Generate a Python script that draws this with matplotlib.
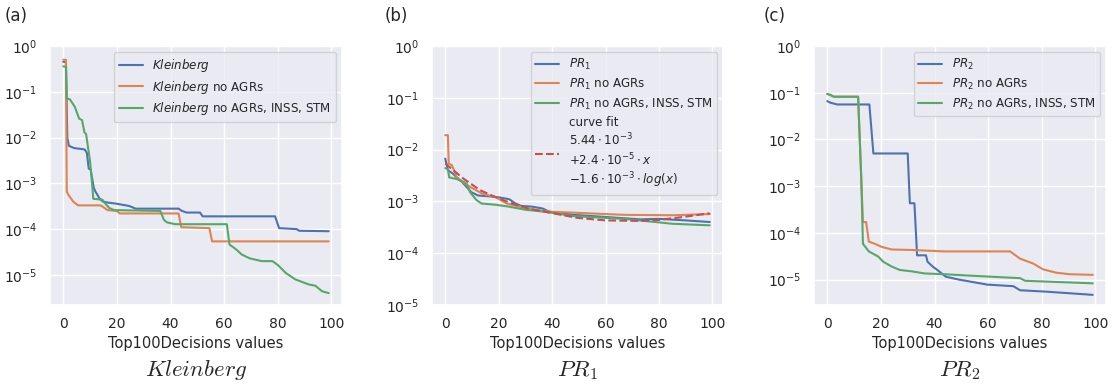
import matplotlib
matplotlib.use('Agg')
import matplotlib.pyplot as plt
import seaborn as sns

sns.set_theme(style='darkgrid')
plt.rcParams['font.family'] = ['DejaVu Sans']

# ---- (a) Kleinberg ----
a_blue_x = [0, 1, 1.5, 2.1, 4, 8, 8.8, 9.5, 10.2, 11.4, 12, 13.6, 14.8, 16.6, 19.7, 24.6, 27, 43, 44.2, 46, 51, 52, 79, 80.5, 87, 88, 99]
a_blue_y = [0.45, 0.45, 1.0e-2, 6.6e-3, 5.9e-3, 5.5e-3, 4.6e-3, 2.1e-3, 2.0e-3, 7.9e-4, 6.6e-4, 4.6e-4, 4.0e-4, 3.8e-4, 3.6e-4, 3.2e-4, 2.8e-4, 2.8e-4, 2.5e-4, 2.3e-4, 2.3e-4, 1.9e-4, 1.9e-4, 1.05e-4, 1.0e-4, 9.2e-5, 9.0e-5]

a_orange_x = [0, 1, 1.3, 2, 3.7, 5.5, 14, 16.5, 20, 21, 43, 44, 54.5, 55.5, 99]
a_orange_y = [0.5, 0.5, 6.6e-4, 5.5e-4, 4.0e-4, 3.3e-4, 3.3e-4, 2.6e-4, 2.5e-4, 2.2e-4, 2.2e-4, 1.1e-4, 1.05e-4, 5.4e-5, 5.4e-5]

a_green_x = [0, 1, 1.3, 2.5, 4.3, 5.9, 7, 7.9, 8.5, 9.1, 10, 10.4, 11.2, 14.6, 15.2, 17.1, 19, 36.2, 37.5, 38.7, 41.8, 61, 62, 64.5, 66.5, 69.5, 74, 78, 80, 83, 86.5, 91.5, 94, 96.5, 99]
a_green_y = [0.36, 0.35, 0.072, 0.068, 0.047, 0.026, 0.024, 0.013, 0.012, 6.9e-3, 3.0e-3, 1.66e-3, 4.6e-4, 4.4e-4, 3.9e-4, 2.9e-4, 2.6e-4, 2.5e-4, 1.6e-4, 1.4e-4, 1.28e-4, 1.28e-4, 4.6e-5, 3.6e-5, 2.8e-5, 2.3e-5, 2.0e-5, 2.0e-5, 1.65e-5, 1.1e-5, 8.0e-6, 6.2e-6, 5.8e-6, 4.4e-6, 4.0e-6]

# ---- (b) PR_1 ----
b_blue_x = [0, 1, 3, 4.3, 6.2, 8, 9.8, 12.3, 16.6, 20, 24, 26, 28.3, 32.6, 36.4, 39, 48, 60, 73, 80, 90, 99]
b_blue_y = [6.7e-3, 4.0e-3, 3.4e-3, 2.9e-3, 2.4e-3, 1.9e-3, 1.5e-3, 1.3e-3, 1.25e-3, 1.2e-3, 1.1e-3, 9.3e-4, 8.2e-4, 7.9e-4, 7.3e-4, 6.3e-4, 5.5e-4, 5.0e-4, 4.5e-4, 4.6e-4, 4.3e-4, 4.0e-4]

b_orange_x = [0, 1, 1.3, 2.5, 3, 4.3, 6.2, 9.3, 14, 19, 23, 28, 34, 40, 50, 67, 85, 99]
b_orange_y = [1.9e-2, 1.9e-2, 5.4e-3, 5.0e-3, 4.3e-3, 2.96e-3, 2.4e-3, 1.9e-3, 1.4e-3, 1.2e-3, 9.1e-4, 7.9e-4, 6.8e-4, 6.3e-4, 6.0e-4, 5.5e-4, 5.4e-4, 5.7e-4]

b_green_x = [0, 1, 1.5, 4.3, 6.8, 8, 9.3, 11.7, 13.6, 19, 24, 30, 37.5, 48, 67, 85, 99]
b_green_y = [4.4e-3, 4.2e-3, 2.9e-3, 2.7e-3, 2.4e-3, 2.2e-3, 1.5e-3, 1.06e-3, 9.1e-4, 8.6e-4, 7.9e-4, 6.9e-4, 6.3e-4, 5.2e-4, 4.6e-4, 3.7e-4, 3.45e-4]

b_fit_x = [0, 6.8, 12.9, 19, 25, 31, 37.5, 49.5, 60, 73, 80, 89, 99]
b_fit_y = [5.4e-3, 2.76e-3, 1.66e-3, 1.2e-3, 9.1e-4, 7.3e-4, 6.3e-4, 4.8e-4, 4.3e-4, 4.2e-4, 4.4e-4, 5.0e-4, 5.9e-4]

# ---- (c) PR_2 ----
c_blue_x = [0, 1.2, 3.7, 15.7, 17.2, 30, 30.8, 32.5, 33.5, 36.8, 37.4, 39.3, 41.7, 44.2, 49, 59.6, 69.4, 71.9, 81.7, 90, 99]
c_blue_y = [0.066, 0.061, 0.056, 0.056, 5.0e-3, 5.0e-3, 4.3e-4, 4.3e-4, 3.3e-5, 3.3e-5, 2.4e-5, 1.9e-5, 1.5e-5, 1.15e-5, 1.0e-5, 7.8e-6, 7.2e-6, 5.9e-6, 5.5e-6, 5.1e-6, 4.7e-6]

c_orange_x = [0, 1, 2.5, 11.5, 12.7, 13.3, 14.5, 15.5, 17.8, 20.3, 24, 31.4, 43.6, 68.2, 71.9, 76.8, 80.5, 85.4, 90.3, 99]
c_orange_y = [0.094, 0.09, 0.082, 0.082, 1.35e-3, 1.7e-4, 1.7e-4, 6.5e-5, 5.8e-5, 5.0e-5, 4.4e-5, 4.3e-5, 4.0e-5, 4.0e-5, 2.8e-5, 2.2e-5, 1.65e-5, 1.4e-5, 1.3e-5, 1.26e-5]

c_green_x = [0, 1, 2.5, 11.5, 12.7, 13.3, 14.2, 15.5, 19, 20.9, 24, 27.1, 31.4, 36.3, 43.6, 54.6, 71.9, 73.8, 99]
c_green_y = [0.094, 0.09, 0.082, 0.082, 1.35e-3, 5.8e-5, 5.0e-5, 4.0e-5, 3.1e-5, 2.4e-5, 1.9e-5, 1.6e-5, 1.5e-5, 1.35e-5, 1.3e-5, 1.2e-5, 1.07e-5, 9.4e-6, 8.3e-6]

fit_label = ('curve fit\n$5.44\\cdot10^{-3}$\n$+2.4\\cdot10^{-5}\\cdot x$\n'
             '$-1.6\\cdot10^{-3}\\cdot log(x)$')

blue, orange, green, red = '#4C72B0', '#DD8452', '#55A868', '#C44E52'
W, H = 1118, 386

fig = plt.figure(figsize=(W / 100, H / 100), dpi=100)

panels = [
    (50, 292, 2.2e-6, 'Kleinberg', '(a)', 5,
     (a_blue_x, a_blue_y), (a_orange_x, a_orange_y), (a_green_x, a_green_y)),
    (432, 291, 1e-5, 'PR_1', '(b)', 385,
     (b_blue_x, b_blue_y), (b_orange_x, b_orange_y), (b_green_x, b_green_y)),
    (814, 292, 2.85e-6, 'PR_2', '(c)', 764,
     (c_blue_x, c_blue_y), (c_orange_x, c_orange_y), (c_green_x, c_green_y)),
]

for left, width, ybot, name, tag, tagx, sb, so, sg in panels:
    ax = fig.add_axes([left / W, (H - 305) / H, width / W, 259 / H])
    ax.plot(sb[0], sb[1], color=blue, linewidth=1.5, label='$%s$' % name)
    ax.plot(so[0], so[1], color=orange, linewidth=1.5, label='$%s$ no AGRs' % name)
    ax.plot(sg[0], sg[1], color=green, linewidth=1.5, label='$%s$ no AGRs, INSS, STM' % name)
    if name == 'PR_1':
        ax.plot(b_fit_x, b_fit_y, color=red, linewidth=1.5, linestyle='--', label=fit_label)
    ax.set_yscale('log')
    ax.set_ylim(ybot, 1)
    ax.set_xlim(-4.95, 103.95)
    ax.set_xticks([0, 20, 40, 60, 80, 100])
    ax.tick_params(labelsize=10, pad=3)
    ax.set_xlabel('Top100Decisions values', fontsize=10.5, labelpad=3)
    ax.legend(loc='upper right', fontsize=8.6, labelspacing=0.4)
    cx = (left + width / 2) / W
    fig.text(cx, 1 - 370 / H, '$%s$' % name, fontsize=16.5, ha='center', va='center',
             math_fontfamily='cm')
    fig.text(tagx / W, 1 - 16 / H, tag, fontsize=12, ha='left', va='center')

plt.savefig('out.png', dpi=100)
